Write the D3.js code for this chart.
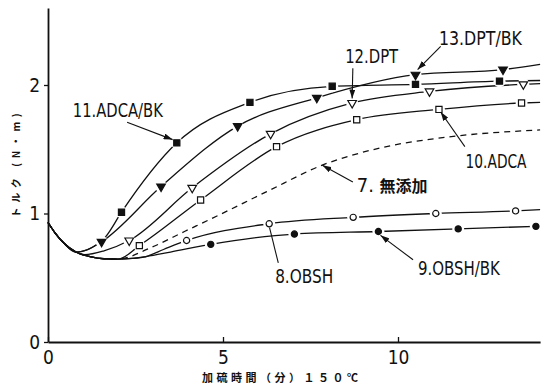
<!DOCTYPE html><html lang="ja"><head><meta charset="utf-8">
<title>トルク曲線</title>
<script src="https://cdn.jsdelivr.net/npm/d3@7"></script>
<style>
body { margin: 0; background: #fff; }
svg { display: block; }
.tick text, .lbl { font-family: "Liberation Sans Narrow", "DejaVu Sans Condensed", "Liberation Sans", sans-serif; fill: #111; }
.jp { font-family: "Noto Sans CJK JP", sans-serif; font-weight: bold; fill: #111; }
</style>
</head>
<body>
<div id="chart"></div>
<script>
// common induction dip shared by every curve (before each one branches off)
const dipX = [0, 0.2, 0.45, 0.8, 1.2, 1.6, 2.0, 2.4, 2.8];
const dipY = [0.93, 0.85, 0.77, 0.70, 0.665, 0.648, 0.645, 0.65, 0.665];

// series names, where each leaves the dip, and marker styles
const names = ["11.ADCA/BK", "13.DPT/BK", "12.DPT", "10.ADCA", "7. 無添加", "8.OBSH", "9.OBSH/BK"];
const branchAt = [0.9, 0.9, 0.9, 2.1, 2.1, 2.9, 2.9];
const symbols = ["square", "tri", "tri", "square", "none", "circle", "circle"];
const filled = [true, true, false, false, false, false, true];

// unmarked points along each curve (lead-in and tail)
const pathX = [
  [1.25, 1.65, 14.06],
  [1.1, 14.06],
  [1.05, 1.6, 14.06],
  [14.06],
  [2.9, 3.9, 4.9, 6.25, 7.87, 9.49, 11.58, 14.06],
  [3.3, 14.06],
  [3.5]
];
const pathY = [
  [0.735, 0.82, 2.035],
  [0.715, 2.16],
  [0.68, 0.71, 2.01],
  [1.865],
  [0.73, 0.86, 0.99, 1.17, 1.38, 1.51, 1.60, 1.65],
  [0.72, 1.03],
  [0.70]
];

// marker points
const markX = [
  [2.1, 3.68, 5.77, 8.12, 10.5, 12.9],
  [1.53, 3.23, 5.42, 7.68, 10.5, 13.0],
  [2.32, 4.12, 6.36, 8.69, 10.9, 13.58],
  [2.61, 4.36, 6.53, 8.82, 11.17, 13.53],
  [],
  [3.96, 6.32, 8.72, 11.08, 13.36],
  [4.65, 7.04, 9.44, 11.72, 13.94]
];
const markY = [
  [1.01, 1.55, 1.865, 1.99, 2.005, 2.03],
  [0.78, 1.21, 1.68, 1.90, 2.08, 2.12],
  [0.79, 1.20, 1.62, 1.86, 1.95, 2.005],
  [0.75, 1.105, 1.52, 1.73, 1.81, 1.86],
  [],
  [0.79, 0.92, 0.97, 1.00, 1.02],
  [0.76, 0.84, 0.86, 0.88, 0.90]
];

// callout labels: text position, arrow start, arrow end (data units)
const labelX = [0.71, 11.17, 8.49, 11.93, 8.82, 6.49, 10.57];
const labelY = [1.75, 2.31, 2.17, 1.355, 1.17, 0.46, 0.52];
const labelW = [90, 83, 53, 61, 65, 58, 82];
const arrowFrom = [[2.26, 1.71], [11.22, 2.30], [8.71, 2.13], [11.91, 1.52], [8.71, 1.245], [6.58, 0.615], [10.43, 0.64]];
const arrowTo = [[3.56, 1.575], [10.56, 2.12], [8.69, 1.895], [11.22, 1.79], [7.84, 1.375], [6.33, 0.89], [9.5, 0.83]];

const xTicks = [0, 5, 10];
const yTicks = [0, 1, 2];

const W = 550, H = 387;
const svg = d3.select("#chart").append("svg").attr("width", W).attr("height", H);

const x = d3.scaleLinear().domain([0, 14.06]).range([48, 540.1]);
const y = d3.scaleLinear().domain([0, 2.6]).range([342, 7.9]);

svg.append("defs").append("marker")
  .attr("id", "ah").attr("viewBox", "0 0 9 6").attr("refX", 9).attr("refY", 3)
  .attr("markerWidth", 9).attr("markerHeight", 6).attr("markerUnits", "userSpaceOnUse")
  .attr("orient", "auto")
  .append("path").attr("d", "M0,0L9,3L0,6z").attr("fill", "#111");

// axes
const xAxis = svg.append("g").attr("transform", `translate(0,${y(0)})`)
  .call(d3.axisBottom(x).tickValues(xTicks).tickFormat(d3.format("d")).tickSizeInner(-5).tickSizeOuter(0).tickPadding(9));
const yAxis = svg.append("g").attr("transform", `translate(${x(0)},0)`)
  .call(d3.axisLeft(y).tickValues(yTicks).tickFormat(d3.format("d")).tickSizeInner(4).tickSizeOuter(0).tickPadding(3));
[xAxis, yAxis].forEach(g => {
  g.select(".domain").attr("stroke", "#111").attr("stroke-width", 1.8);
  g.selectAll(".tick line").attr("stroke", "#111").attr("stroke-width", 1.3);
  g.selectAll(".tick text").attr("font-size", 19).attr("fill", "#111");
});
xAxis.selectAll(".tick text").attr("dy", "0.7em");
yAxis.selectAll(".tick text").attr("dx", "-1");

// axis titles
svg.append("text").attr("class", "jp")
  .attr("transform", `translate(20,${(113 + 218) / 2}) rotate(-90)`)
  .attr("text-anchor", "middle").attr("font-size", 10)
  .attr("textLength", 104).attr("lengthAdjust", "spacing")
  .text("トルク (N・m)");
svg.append("text").attr("class", "jp")
  .attr("x", 202).attr("y", 382).attr("font-size", 11)
  .attr("textLength", 156).attr("lengthAdjust", "spacing")
  .text("加硫時間（分）１５０℃");

// curves
const line = d3.line().x(d => x(d[0])).y(d => y(d[1])).curve(d3.curveMonotoneX);
const curveLayer = svg.append("g");
names.forEach((n, i) => {
  const pts = dipX.map((v, k) => [v, dipY[k]]).filter(p => p[0] < branchAt[i])
    .concat(pathX[i].map((v, k) => [v, pathY[i][k]]))
    .concat(markX[i].map((v, k) => [v, markY[i][k]]))
    .sort((a, b) => a[0] - b[0]);
  curveLayer.append("path").datum(pts)
    .attr("d", line)
    .attr("fill", "none").attr("stroke", "#111")
    .attr("stroke-width", 1.3)
    .attr("stroke-dasharray", symbols[i] === "none" ? "6,5" : null);
});

// white knock-outs so lines break around markers
const halo = svg.append("g");
const marks = svg.append("g");
const symOf = s => s === "square" ? d3.symbolSquare : s === "tri" ? d3.symbolTriangle : d3.symbolCircle;
const sizeOf = s => s === "square" ? 38 : s === "tri" ? 32 : 30;
names.forEach((n, i) => {
  markX[i].forEach((v, k) => {
    const cx = x(v), cy = y(markY[i][k]);
    halo.append("circle").attr("cx", cx).attr("cy", cy).attr("r", 6).attr("fill", "#fff");
    marks.append("path")
      .attr("d", d3.symbol().type(symOf(symbols[i])).size(sizeOf(symbols[i]))())
      .attr("transform", `translate(${cx},${cy})` + (symbols[i] === "tri" ? " rotate(180)" : ""))
      .attr("fill", filled[i] ? "#111" : "#fff")
      .attr("stroke", "#111").attr("stroke-width", 1.2);
  });
});

// callouts
const notes = svg.append("g");
names.forEach((n, i) => {
  notes.append("line")
    .attr("x1", x(arrowFrom[i][0])).attr("y1", y(arrowFrom[i][1]))
    .attr("x2", x(arrowTo[i][0])).attr("y2", y(arrowTo[i][1]))
    .attr("stroke", "#111").attr("stroke-width", 1.1)
    .attr("marker-end", i === 5 ? null : "url(#ah)");
  const t = notes.append("text").attr("x", x(labelX[i])).attr("y", y(labelY[i]));
  if (n.startsWith("7.")) {
    t.append("tspan").attr("class", "lbl").attr("font-size", 20).text("7. ");
    t.append("tspan").attr("class", "jp").attr("font-size", 16).text("無添加");
  } else {
    t.attr("class", "lbl").attr("font-size", 20)
      .attr("textLength", labelW[i]).attr("lengthAdjust", "spacingAndGlyphs")
      .text(n);
  }
});
</script>
</body>
</html>
